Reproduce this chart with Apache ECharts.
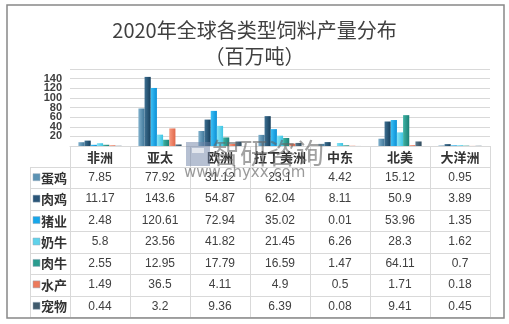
<!DOCTYPE html>
<html><head><meta charset="utf-8">
<script src="https://cdn.jsdelivr.net/npm/echarts@6/dist/echarts.min.js"></script>
<style>html,body{margin:0;padding:0;background:#fff}#c{width:509px;height:324px}</style>
</head><body><div id="c"></div>
<script>
var categories = ['非洲','亚太','欧洲','拉丁美洲','中东','北美','大洋洲'];
var seriesNames = ['蛋鸡','肉鸡','猪业','奶牛','肉牛','水产','宠物'];
var layers   = [7.85, 77.92, 31.12, 23.1, 4.42, 15.12, 0.95];
var broilers = [11.17, 143.6, 54.87, 62.04, 8.11, 50.9, 3.89];
var pigs     = [2.48, 120.61, 72.94, 35.02, 0.01, 53.96, 1.35];
var dairy    = [5.8, 23.56, 41.82, 21.45, 6.26, 28.3, 1.62];
var beef     = [2.55, 12.95, 17.79, 16.59, 1.47, 64.11, 0.7];
var aqua     = [1.49, 36.5, 4.11, 4.9, 0.5, 1.71, 0.18];
var pets     = [0.44, 3.2, 9.36, 6.39, 0.08, 9.41, 0.45];
var yTicks = [0, 20, 40, 60, 80, 100, 120, 140, 160];

var allData = [layers, broilers, pigs, dairy, beef, aqua, pets];
var colors = [
  ['#7fb0cc','#3f7699'],
  ['#3d6f91','#173f5c'],
  ['#3cc0f5','#0a8fd6'],
  ['#86e3f5','#3cc4e3'],
  ['#3fb3a4','#1b7f75'],
  ['#f79a80','#e0674a'],
  ['#5d7a8e','#2f4a5c']
];
var legendColors = ['#5b93b4','#2a5578','#17a7ea','#5fd2ea','#2a9c8e','#ec7a5c','#3f5a6c'];

var chart = echarts.init(document.getElementById('c'));
var gl = 70, gr = 490, gt = 69, gb = 146;
var cw = (gr - gl) / categories.length;
var tTop = 167, tBot = 317, rh = (tBot - tTop) / seriesNames.length;
var lineColor = '#d9d9d9';

var graphics = [];
graphics.push({type:'rect', shape:{x:7,y:5,width:497,height:313}, style:{fill:'none', stroke:'#888', lineWidth:1.5}, z:1});
for (var i = 0; i <= categories.length; i++) {
  var x = Math.round(gl + i*cw) + 0.5;
  graphics.push({type:'line', shape:{x1:x,y1:gb,x2:x,y2:tBot}, style:{stroke:lineColor, lineWidth:1}});
}
graphics.push({type:'line', shape:{x1:30.5,y1:tTop,x2:30.5,y2:tBot}, style:{stroke:lineColor, lineWidth:1}});
for (var j = 0; j <= seriesNames.length; j++) {
  var y = Math.round(tTop + j*rh) + 0.5;
  graphics.push({type:'line', shape:{x1:30,y1:y,x2:gr,y2:y}, style:{stroke:lineColor, lineWidth:1}});
}
for (var j = 0; j < seriesNames.length; j++) {
  var cy = tTop + (j+0.5)*rh;
  graphics.push({type:'rect', shape:{x:33,y:cy-4,width:7,height:7}, style:{fill:legendColors[j], stroke:'#9ab', lineWidth:0.5}});
  graphics.push({type:'text', style:{text:seriesNames[j], x:41, y:cy, textVerticalAlign:'middle', fontSize:13, fontWeight:'bold', fontFamily:'Noto Sans CJK SC', fill:'#333'}});
  for (var i = 0; i < categories.length; i++) {
    graphics.push({type:'text', style:{text:String(allData[j][i]), x:gl+(i+0.5)*cw, y:cy, textAlign:'center', textVerticalAlign:'middle', fontSize:12, fontFamily:'Liberation Sans', fill:'#404040'}});
  }
}
// watermark
graphics.push({type:'rect', shape:{x:186,y:142,width:24,height:24}, style:{fill:'rgba(110,130,165,0.5)'}, z:50});
graphics.push({type:'rect', shape:{x:192,y:148,width:12,height:5}, style:{fill:'rgba(255,255,255,0.6)'}, z:51});
graphics.push({type:'text', style:{text:'智研咨询', x:212, y:153, textVerticalAlign:'middle', fontSize:28, fontFamily:'Noto Sans CJK SC', fill:'rgba(100,100,100,0.6)'}, z:50});
graphics.push({type:'text', style:{text:'www.chyxx.com', x:184, y:173, textVerticalAlign:'middle', fontSize:15, fontFamily:'DejaVu Sans', fill:'rgba(100,100,100,0.65)'}, z:50});

var series = seriesNames.map(function(n, k){
  return {
    name: n, type: 'bar', data: allData[k], barGap: '0%', barCategoryGap: '28%',
    itemStyle: {color: new echarts.graphic.LinearGradient(0,0,1,0,[{offset:0,color:colors[k][0]},{offset:1,color:colors[k][1]}])}
  };
});

chart.setOption({
  animation: false,
  title: {
    text: '2020年全球各类型饲料产量分布\n（百万吨）', left: 'center', top: 12,
    textStyle: {fontSize: 20, fontWeight: 'normal', color: '#404040', fontFamily: 'Noto Sans CJK SC', lineHeight: 26}
  },
  grid: {left: gl, right: 509 - gr, top: gt, bottom: 324 - gb},
  xAxis: {
    type: 'category', data: categories,
    axisLine: {lineStyle: {color: lineColor}},
    axisTick: {show: false},
    axisLabel: {margin: 5, fontSize: 13, fontWeight: 'bold', color: '#333', fontFamily: 'Noto Sans CJK SC', interval: 0}
  },
  yAxis: {
    type: 'value', min: yTicks[0], max: yTicks[yTicks.length-1], interval: yTicks[1]-yTicks[0],
    axisLine: {show: false}, axisTick: {show: false},
    axisLabel: {fontSize: 11, fontWeight: 'bold', color: '#404040', margin: 8, fontFamily: 'Liberation Sans'},
    splitLine: {lineStyle: {color: lineColor}}
  },
  series: series,
  graphic: graphics
});
</script></body></html>
